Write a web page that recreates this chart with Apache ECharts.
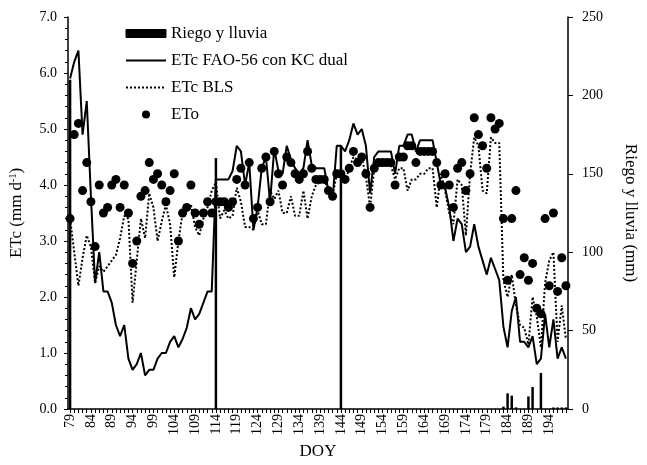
<!DOCTYPE html>
<html><head><meta charset="utf-8">
<script src="https://cdn.jsdelivr.net/npm/echarts@6/dist/echarts.min.js"></script>
<style>html,body{margin:0;padding:0;background:#fff}#c{width:647px;height:465px}</style>
</head><body><div id="c"></div>
<script>
// Day of year (categories)
const doy = [79,80,81,82,83,84,85,86,87,88,89,90,91,92,93,94,95,96,97,98,99,100,101,102,103,104,105,106,107,108,109,110,111,112,113,114,115,116,117,118,119,120,121,122,123,124,125,126,127,128,129,130,131,132,133,134,135,136,137,138,139,140,141,142,143,144,145,146,147,148,149,150,151,152,153,154,155,156,157,158,159,160,161,162,163,164,165,166,167,168,169,170,171,172,173,174,175,176,177,178,179,180,181,182,183,184,185,186,187,188,189,190,191,192,193,194,195,196,197,198];
// ETc FAO-56 con KC dual (mm/d)
const etcFao = [5.9,6.2,6.4,4.9,5.5,3.8,2.25,2.8,2.1,2.1,1.9,1.5,1.3,1.5,0.9,0.7,0.8,1.0,0.6,0.7,0.7,0.9,1.0,1.0,1.2,1.3,1.1,1.25,1.45,1.8,1.6,1.7,1.9,2.1,2.1,4.1,4.1,4.1,4.1,4.25,4.7,4.6,4.0,4.4,3.2,3.6,4.3,4.5,3.7,4.65,4.25,4.2,4.7,4.45,4.3,4.2,4.3,4.8,4.35,4.3,4.3,4.3,3.9,3.75,4.7,4.7,4.6,4.8,5.1,4.9,5.0,4.7,3.85,4.5,4.6,4.6,4.6,4.6,4.2,4.7,4.7,4.9,4.9,4.6,4.8,4.8,4.8,4.8,4.4,4.0,3.95,3.6,3.0,3.4,3.3,2.8,2.9,3.3,2.9,2.65,2.4,2.7,2.5,2.3,1.47,1.1,1.75,2.0,1.2,1.2,1.1,1.3,0.8,0.9,1.7,1.1,1.6,0.9,1.1,0.9];
// ETc BLS (mm/d)
const etcBls = [3.4,2.8,2.2,2.7,3.1,2.9,2.25,2.55,2.45,2.55,2.65,2.75,3.05,3.45,3.4,1.9,2.65,3.4,3.05,3.85,3.6,3.0,3.35,3.65,3.3,2.35,3.0,3.5,3.6,3.65,3.25,3.1,3.4,3.6,3.9,4.05,3.4,3.55,3.4,3.45,3.95,3.7,3.25,3.25,3.2,3.55,3.3,3.3,3.9,3.75,3.9,3.5,3.5,3.8,3.45,3.45,3.9,3.4,3.8,4.0,4.05,4.1,3.9,3.8,4.2,4.2,4.05,4.3,4.5,4.45,4.5,4.15,3.6,4.3,4.35,4.35,4.35,4.35,4.1,4.3,4.3,3.9,4.1,4.1,4.2,4.2,4.3,4.3,3.6,4.2,3.9,3.5,3.3,4.1,4.0,3.1,4.2,4.85,4.7,3.9,3.85,4.85,4.75,4.75,2.3,2.0,2.4,1.85,1.5,1.45,1.15,2.0,1.65,1.1,2.25,2.65,2.8,1.2,1.85,1.25];
// ETo (mm/d)
const eto = [3.4,4.9,5.1,3.9,4.4,3.7,2.9,4.0,3.5,3.6,4.0,4.1,3.6,4.0,3.5,2.6,3.0,3.8,3.9,4.4,4.1,4.2,4.0,3.7,3.9,4.2,3.0,3.5,3.6,4.0,3.5,3.3,3.5,3.7,3.5,3.7,3.7,3.7,3.6,3.7,4.1,4.3,4.0,4.4,3.4,3.6,4.3,4.5,3.7,4.6,4.2,4.0,4.5,4.4,4.2,4.1,4.2,4.6,4.3,4.1,4.1,4.1,3.9,3.8,4.2,4.2,4.1,4.3,4.6,4.4,4.5,4.2,3.6,4.3,4.4,4.4,4.4,4.4,4.0,4.5,4.5,4.7,4.7,4.4,4.6,4.6,4.6,4.6,4.4,4.0,4.2,4.0,3.6,4.3,4.4,3.9,4.2,5.2,4.9,4.7,4.3,5.2,5.0,5.1,3.4,2.3,3.4,3.9,2.4,2.7,2.3,2.6,1.8,1.7,3.4,2.2,3.5,2.1,2.7,2.2];
// Riego y lluvia (mm)
const riegoDoy = [79,114,144,183,184,185,186,189,190,192,195,196,197,198];
const riegoMm = [210,160,168,1.5,10,8.5,1,8,14,23,1,1,1,1];

const FONT = "'Liberation Serif','Times New Roman',serif";
const cats = doy.map(String);
const riegoData = riegoDoy.map((d, i) => [String(d), riegoMm[i]]);

const chart = echarts.init(document.getElementById('c'), null, {renderer: 'canvas'});
chart.setOption({
  animation: false,
  backgroundColor: '#fff',
  textStyle: {fontFamily: FONT, color: '#000'},
  grid: {left: 63, right: 70, top: 17, bottom: 56, containLabel: false},
  legend: {
    orient: 'vertical', left: 120, top: 20,
    itemWidth: 40, itemHeight: 8, itemGap: 10,
    textStyle: {fontFamily: FONT, fontSize: 17, color: '#000'},
    data: [
      {name: 'Riego y lluvia', icon: 'rect',
        itemStyle: {color: '#000', borderColor: '#000', borderWidth: 1, borderType: 'solid', opacity: 1}},
      {name: 'ETc FAO-56 con KC dual', itemStyle: {color: 'rgba(0,0,0,0)', borderWidth: 0}},
      {name: 'ETc BLS', itemStyle: {color: 'rgba(0,0,0,0)', borderWidth: 0}},
      {name: 'ETo', icon: 'circle'}
    ]
  },
  xAxis: {
    type: 'category', data: cats, boundaryGap: true,
    name: 'DOY', nameLocation: 'middle', nameGap: 28,
    nameTextStyle: {fontFamily: FONT, fontSize: 17, color: '#000'},
    axisLine: {lineStyle: {color: '#000', width: 1.5}},
    axisTick: {show: true, interval: 0, alignWithLabel: true, length: 4, lineStyle: {color: '#000'}},
    axisLabel: {interval: 4, rotate: 90, fontFamily: FONT, fontSize: 14, color: '#000', margin: 5}
  },
  yAxis: [{
    type: 'value', min: 0, max: 7, interval: 1, position: 'left',
    name: 'ETc (mm d{s|-1})', nameLocation: 'middle', nameGap: 42, nameRotate: 90,
    nameTextStyle: {fontFamily: FONT, fontSize: 17, color: '#000',
      rich: {s: {fontFamily: FONT, fontSize: 10, padding: [0, 0, 8, 0]}}},
    axisLine: {show: true, lineStyle: {color: '#000', width: 1.5}},
    axisTick: {show: true, length: 4, lineStyle: {color: '#000'}},
    minorTick: {show: true, splitNumber: 5, length: 3, lineStyle: {color: '#000'}},
    axisLabel: {formatter: v => v.toFixed(1), fontFamily: FONT, fontSize: 14, color: '#000', margin: 11},
    splitLine: {show: false}
  }, {
    type: 'value', min: 0, max: 250, interval: 50, position: 'right',
    name: 'Riego y lluvia (mm)', nameLocation: 'middle', nameGap: 54, nameRotate: -90,
    nameTextStyle: {fontFamily: FONT, fontSize: 17, color: '#000'},
    axisLine: {show: true, lineStyle: {color: '#000', width: 1.5}},
    axisTick: {show: true, length: 5, lineStyle: {color: '#000'}},
    axisLabel: {fontFamily: FONT, fontSize: 14, color: '#000', margin: 14},
    splitLine: {show: false}
  }],
  series: [{
    name: 'Riego y lluvia', type: 'bar', yAxisIndex: 1, data: riegoData,
    barWidth: 2.5, itemStyle: {color: '#000'}, z: 1
  }, {
    name: 'ETc FAO-56 con KC dual', type: 'line', data: etcFao,
    symbol: 'none', showSymbol: false,
    lineStyle: {color: '#000', width: 2}, itemStyle: {color: '#000'}, z: 3
  }, {
    name: 'ETc BLS', type: 'line', data: etcBls,
    symbol: 'none', showSymbol: false,
    lineStyle: {color: '#000', width: 2, type: [2, 2]}, itemStyle: {color: '#000'}, z: 2
  }, {
    name: 'ETo', type: 'scatter', data: eto, symbol: 'circle', symbolSize: 9,
    itemStyle: {color: '#000', opacity: 1}, z: 4
  }]
});
</script></body></html>
